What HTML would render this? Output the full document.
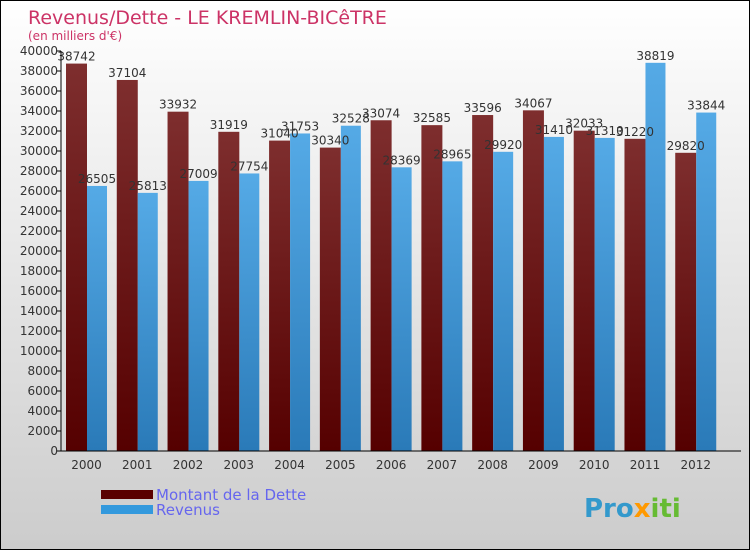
<!DOCTYPE html>
<html><head><meta charset="utf-8"><style>
body{margin:0}
#c{width:750px;height:550px;position:relative;box-sizing:border-box;border:1px solid #000;background:linear-gradient(#ffffff,#cccccc);font-family:"DejaVu Sans","Liberation Sans",sans-serif}
</style></head><body>
<div id="c">
<svg id="s" width="750" height="550" style="position:absolute;left:0;top:0">
<defs>
<linearGradient id="gd" x1="0" x2="0" y1="0" y2="1"><stop offset="0" stop-color="#7e2e2e"/><stop offset="1" stop-color="#550000"/></linearGradient>
<linearGradient id="gr" x1="0" x2="0" y1="0" y2="1"><stop offset="0" stop-color="#55aae6"/><stop offset="1" stop-color="#2a7ab8"/></linearGradient>
</defs>
<text x="27" y="23" font-size="19" fill="#cc3366">Revenus/Dette - LE KREMLIN-BICêTRE</text>
<text x="27" y="39" font-size="12" fill="#cc3366">(en milliers d'€)</text>
<g id="bars"></g>
<g id="axes"></g>
<rect x="100" y="489" width="52" height="9" fill="#5a0000"/>
<rect x="100" y="504" width="52" height="9" fill="#3399dd"/>
<text x="155" y="499" font-size="15" fill="#6666ee">Montant de la Dette</text>
<text x="155" y="514" font-size="15" fill="#6666ee">Revenus</text>
<text x="583" y="516" font-size="26" font-weight="bold" fill="#3399cc">Pro<tspan fill="#ff9900">x</tspan><tspan fill="#66bb33">iti</tspan></text>
</svg>
</div>
<script>
const years=["2000","2001","2002","2003","2004","2005","2006","2007","2008","2009","2010","2011","2012"];
const dette=[38742,37104,33932,31919,31040,30340,33074,32585,33596,34067,32033,31220,29820];
const revenus=[26505,25813,27009,27754,31753,32528,28369,28965,29920,31410,31310,38819,33844];
const yTicks=[0,2000,4000,6000,8000,10000,12000,14000,16000,18000,20000,22000,24000,26000,28000,30000,32000,34000,36000,38000,40000];
const NS="http://www.w3.org/2000/svg";
const x0=60,gw=50.77,y0=450,ymax=40000,ph=400;
const y=v=>y0-v/ymax*ph;
const xg=i=>x0+i*gw;
const bars=document.getElementById('bars'),axes=document.getElementById('axes');
function mk(tag,at,p){const e=document.createElementNS(NS,tag);for(const k in at)e.setAttribute(k,at[k]);p.appendChild(e);return e;}
years.forEach((yr,i)=>{
  const r1=mk('rect',{x:xg(i)+5,y:y(dette[i]),width:21,height:y0-y(dette[i]),fill:'url(#gd)'},bars);
  
  
  const r2=mk('rect',{x:xg(i)+26,y:y(revenus[i]),width:20,height:y0-y(revenus[i]),fill:'url(#gr)'},bars);
  
  
  const t1=mk('text',{x:xg(i)+15.5,y:y(dette[i])-3,'font-size':12,fill:'#333','text-anchor':'middle'},bars);t1.textContent=dette[i];
  
  
  const t2=mk('text',{x:xg(i)+36,y:y(revenus[i])-3,'font-size':12,fill:'#333','text-anchor':'middle'},bars);t2.textContent=revenus[i];
  
  
  const xl=mk('text',{x:xg(i)+25.5,y:468,'font-size':12,fill:'#333','text-anchor':'middle'},axes);xl.textContent=yr;
  
  
});
const ya=mk('line',{x1:x0,x2:x0,y1:y0,y2:50,stroke:'#000'},axes);


const xa=mk('line',{x1:x0,x2:740,y1:y0,y2:y0,stroke:'#000'},axes);


yTicks.forEach(v=>{
  mk('line',{x1:x0-4,x2:x0,y1:y(v),y2:y(v),stroke:'#000'},axes);
  const t=mk('text',{x:x0-3,y:y(v)+4,'font-size':12,fill:'#333','text-anchor':'end'},axes);t.textContent=v;
  
  
});
</script>
</body></html>
